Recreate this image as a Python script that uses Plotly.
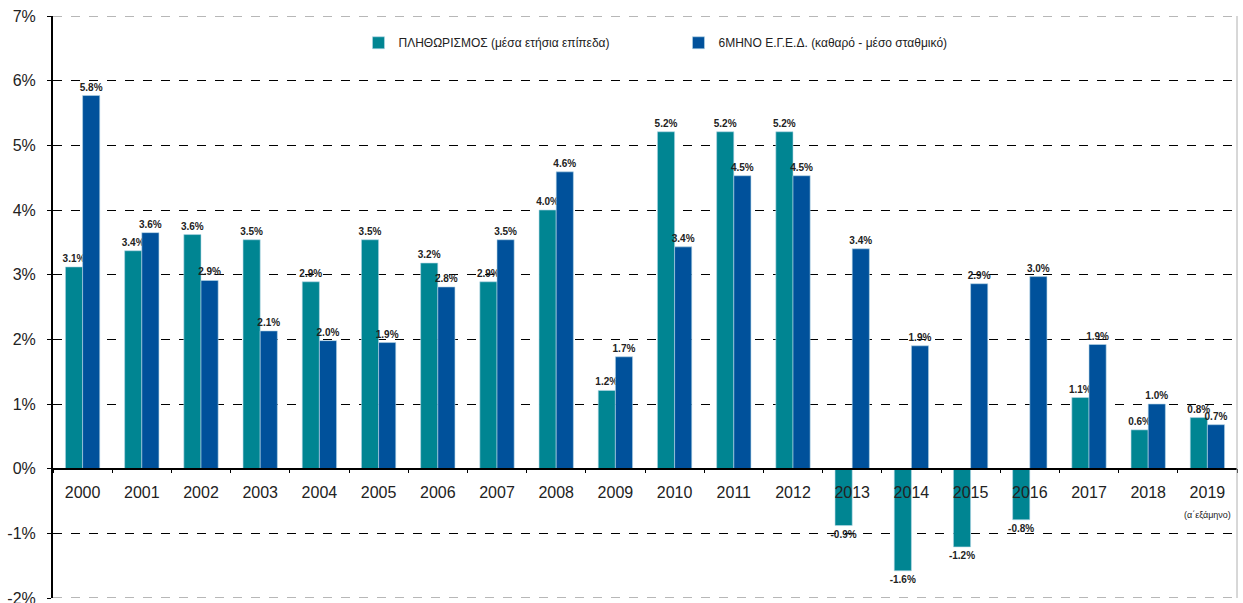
import plotly.graph_objects as go

# Chart data
years = [str(y) for y in range(2000, 2020)]
tick_labels = years[:-1] + ["2019<br><span style='font-size:9px'>(α΄εξάμηνο)</span>"]

inflation = [3.12, 3.37, 3.62, 3.54, 2.89, 3.54, 3.18, 2.89, 4.00, 1.21,
             5.21, 5.21, 5.21, -0.88, -1.58, -1.21, -0.79, 1.10, 0.60, 0.79]
bond_6m = [5.77, 3.65, 2.91, 2.13, 1.98, 1.95, 2.81, 3.54, 4.59, 1.73,
           3.43, 4.53, 4.53, 3.40, 1.90, 2.86, 2.97, 1.92, 1.00, 0.68]

series_names = ["ΠΛΗΘΩΡΙΣΜΟΣ (μέσα ετήσια επίπεδα)",
                "6ΜΗΝΟ Ε.Γ.Ε.Δ. (καθαρό - μέσο σταθμικό)"]

y_ticks = list(range(-2, 8))
y_tick_labels = [f"{v}%" for v in y_ticks]

TEAL = "#008592"
BLUE = "#00519b"

fig = go.Figure()

for name, vals, color in [(series_names[0], inflation, TEAL),
                          (series_names[1], bond_6m, BLUE)]:
    fig.add_trace(go.Bar(
        x=years,
        y=vals,
        name=name,
        marker=dict(color=color, line=dict(color="#b8d8e8", width=0.6)),
        text=[f"{v:.1f}%" for v in vals],
        textposition="outside",
        constraintext="none",
        textfont=dict(family="Liberation Sans, Arial", size=10,
                      color="#222222", weight="bold"),
        cliponaxis=False,
    ))

fig.update_layout(
    width=1243,
    height=603,
    margin=dict(l=53, r=6, t=16, b=5),
    plot_bgcolor="white",
    paper_bgcolor="white",
    barmode="group",
    bargap=0.42,
    bargroupgap=0,
    font=dict(family="Liberation Sans, Arial", color="#222222"),
    showlegend=True,
    legend=dict(
        orientation="h",
        x=0.258, y=0.954, xanchor="left", yanchor="middle",
        entrywidth=275, entrywidthmode="pixels",
        font=dict(family="Liberation Sans, Arial", size=12, color="#222222"),
        itemwidth=30,
        bgcolor="rgba(0,0,0,0)",
    ),
)

fig.update_yaxes(
    range=[-2, 7],
    tickvals=y_ticks,
    ticktext=y_tick_labels,
    tickfont=dict(size=16, color="#222222"),
    ticklabelstandoff=8,
    ticklabeloverflow="allow",
    automargin=False,
    showgrid=True,
    gridcolor="black",
    gridwidth=1,
    griddash="dash",
    zeroline=False,
    showline=True,
    linecolor="black",
    linewidth=2,
    ticks="outside",
    ticklen=4,
    tickcolor="black",
)

fig.update_xaxes(
    type="category",
    tickvals=years,
    ticktext=tick_labels,
    tickfont=dict(size=16, color="#222222"),
    ticklabelstandoff=9,
    automargin=False,
    anchor="free",
    position=2 / 9,
    showline=True,
    linecolor="black",
    linewidth=1.5,
    ticks="outside",
    tickson="boundaries",
    ticklen=4,
    tickcolor="black",
    showgrid=False,
)

# grey border lines at top and bottom of plot
for yv in (7, -2):
    fig.add_shape(type="line", xref="paper", yref="y", x0=0, x1=1, y0=yv, y1=yv,
                  line=dict(color="#a0a0a0", width=1.5, dash="dash"))
fig.add_shape(type="line", xref="paper", yref="paper", x0=1, x1=1, y0=0, y1=1,
              line=dict(color="#b0b0b0", width=1))

fig.write_html("out.html", config={"displayModeBar": False},
               post_script="document.body.style.margin='0';")
